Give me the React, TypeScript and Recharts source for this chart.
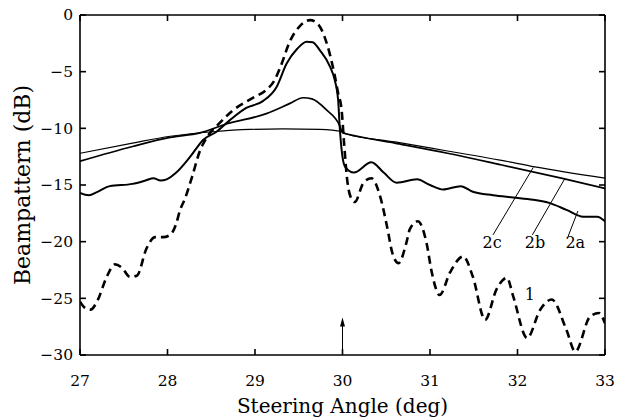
import { LineChart, Line, XAxis, YAxis, ReferenceLine, ReferenceDot } from "recharts";

// curve 1 (dashed)
const c1X = [27.0, 27.05, 27.12, 27.2, 27.3, 27.4, 27.48, 27.57, 27.65, 27.76, 27.86, 27.95, 28.03, 28.1, 28.14, 28.2, 28.28, 28.37, 28.45, 28.6, 28.75, 28.98, 29.13, 29.22, 29.29, 29.4, 29.51, 29.63, 29.72, 29.82, 29.91, 29.95, 29.99, 30.02, 30.05, 30.09, 30.14, 30.24, 30.33, 30.43, 30.51, 30.57, 30.64, 30.73, 30.77, 30.86, 30.96, 31.02, 31.11, 31.23, 31.38, 31.49, 31.63, 31.76, 31.88, 31.95, 32.11, 32.26, 32.39, 32.56, 32.66, 32.83, 32.93, 33.0];
const c1Y = [-25.3, -25.8, -26.0, -25.2, -23.2, -22.0, -22.3, -23.1, -23.0, -20.6, -19.6, -19.6, -19.4, -18.4, -17.3, -16.2, -14.3, -12.0, -10.8, -9.5, -8.4, -7.3, -6.6, -5.8, -4.6, -2.3, -1.0, -0.45, -0.8, -2.5, -5.3, -6.9, -8.4, -11.5, -14.3, -16.0, -16.5, -14.8, -14.4, -16.0, -18.7, -21.0, -21.9, -20.1, -18.9, -18.2, -20.1, -22.7, -24.7, -22.7, -21.3, -23.1, -26.9, -24.2, -23.2, -24.8, -28.5, -26.0, -25.1, -27.8, -29.7, -26.6, -26.3, -27.2];

// curve 2a
const c2aX = [27.0, 27.1, 27.2, 27.34, 27.6, 27.75, 27.84, 27.92, 27.99, 28.1, 28.26, 28.41, 28.56, 28.71, 28.9, 29.09, 29.25, 29.36, 29.48, 29.59, 29.66, 29.74, 29.86, 29.91, 29.95, 29.97, 29.99, 30.03, 30.13, 30.33, 30.47, 30.62, 30.85, 31.0, 31.15, 31.35, 31.49, 31.72, 31.95, 32.18, 32.37, 32.56, 32.75, 32.91, 33.0];
const c2aY = [-15.7, -15.9, -15.6, -15.1, -14.9, -14.6, -14.4, -14.6, -14.5, -13.9, -12.5, -11.0, -10.3, -9.3, -8.2, -7.6, -6.3, -4.3, -3.0, -2.35, -2.4, -3.1, -4.6, -5.7, -7.5, -10.1, -11.9, -13.4, -13.9, -13.0, -13.9, -14.8, -14.5, -15.0, -15.4, -15.1, -15.6, -15.9, -16.1, -16.3, -16.6, -17.2, -17.8, -17.8, -18.2];

// curve 2b
const c2bX = [27.0, 27.6, 28.03, 28.37, 28.68, 29.13, 29.4, 29.55, 29.65, 29.82, 29.97, 30.0, 30.05, 30.6, 31.2, 31.8, 32.5, 33.0];
const c2bY = [-12.9, -11.6, -10.8, -10.4, -9.6, -8.7, -7.8, -7.3, -7.4, -8.4, -9.8, -10.4, -10.5, -11.3, -12.2, -13.2, -14.4, -15.3];

// curve 2c
const c2cX = [27.0, 27.6, 28.03, 28.52, 28.94, 29.32, 29.74, 30.0, 30.05, 30.6, 31.2, 31.8, 32.2, 33.0];
const c2cY = [-12.2, -11.3, -10.7, -10.3, -10.1, -10.05, -10.1, -10.3, -10.5, -11.2, -12.0, -12.8, -13.4, -14.4];

const xTicks = [27, 28, 29, 30, 31, 32, 33];
const yTicks = [0, -5, -10, -15, -20, -25, -30];

const curveLabels = ["2c", "2b", "2a"];
const labelX = [31.71, 32.2, 32.66];
const labelY = -20.1;
const leaderFrom = [
  { x: 31.72, y: -19.4 },
  { x: 32.17, y: -19.4 },
  { x: 32.58, y: -19.5 },
];
const leaderTo = [
  { x: 32.18, y: -13.45 },
  { x: 32.54, y: -14.45 },
  { x: 32.69, y: -17.3 },
];

const pts = (xs: number[], ys: number[]) => xs.map((x, i) => ({ x, y: ys[i] }));

const FONT = "'DejaVu Serif', 'Liberation Serif', serif";
const fmt = (v: number) => String(v).replace("-", "\u2212");
const M = 20; // tick margin
const TL = 6; // inward tick length

const BottomTick = ({ x, y, payload }: any) => (
  <g>
    <line x1={x} x2={x} y1={y - M} y2={y - M - TL} stroke="#000" strokeWidth={1.6} />
    <text x={x} y={y} dy="0.71em" textAnchor="middle" fontSize={15.5} fontFamily={FONT} fill="#000">
      {payload.value}
    </text>
  </g>
);

const TopTick = ({ x, y }: any) => (
  <line x1={x} x2={x} y1={y + M} y2={y + M + TL} stroke="#000" strokeWidth={1.6} />
);

const LeftTick = ({ x, y, payload }: any) => (
  <g>
    <line x1={x + M} x2={x + M + TL} y1={y} y2={y} stroke="#000" strokeWidth={1.6} />
    <text x={x + M - 7} y={y} dy="0.35em" textAnchor="end" fontSize={15.5} fontFamily={FONT} fill="#000">
      {fmt(payload.value)}
    </text>
  </g>
);

const RightTick = ({ x, y }: any) => (
  <line x1={x - M} x2={x - M - TL} y1={y} y2={y} stroke="#000" strokeWidth={1.6} />
);

const textShape = (t: string) => (p: any) => (
  <text x={p.cx} y={p.cy} textAnchor="middle" dominantBaseline="central" fontSize={16} fontFamily={FONT} fill="#000">
    {t}
  </text>
);

export default function App() {
  return (
    <div style={{ position: "absolute", left: 0, top: 0, background: "#fff" }}>
      <LineChart width={626} height={419} margin={{ top: 14, right: 20, bottom: 0, left: 0 }}>
        <XAxis
          xAxisId={0}
          dataKey="x"
          type="number"
          domain={[27, 33]}
          ticks={xTicks}
          allowDataOverflow
          height={64}
          tickSize={0}
          tickMargin={M}
          tickLine={false}
          tick={BottomTick}
          stroke="#000"
          strokeWidth={1.6}
          label={{ value: "Steering Angle (deg)", position: "insideBottom", offset: 6, style: { fontSize: 20, fontFamily: FONT, fill: "#000" } }}
        />
        <XAxis
          xAxisId="t"
          orientation="top"
          dataKey="x"
          type="number"
          domain={[27, 33]}
          ticks={xTicks}
          allowDataOverflow
          height={1}
          tickSize={0}
          tickMargin={M}
          tickLine={false}
          tick={TopTick}
          stroke="#000"
          strokeWidth={1.6}
        />
        <YAxis
          yAxisId={0}
          type="number"
          domain={[-30, 0]}
          ticks={yTicks}
          allowDataOverflow
          width={80}
          tickSize={0}
          tickMargin={M}
          tickLine={false}
          tick={LeftTick}
          stroke="#000"
          strokeWidth={1.6}
          label={{ value: "Beampattern (dB)", angle: -90, position: "insideLeft", offset: 22, style: { fontSize: 22, fontFamily: FONT, fill: "#000", textAnchor: "middle" } }}
        />
        <YAxis
          yAxisId="r"
          orientation="right"
          type="number"
          domain={[-30, 0]}
          ticks={yTicks}
          allowDataOverflow
          width={1}
          tickSize={0}
          tickMargin={M}
          tickLine={false}
          tick={RightTick}
          stroke="#000"
          strokeWidth={1.6}
        />
        <Line xAxisId="t" yAxisId="r" data={pts(c2cX, c2cY)} dataKey="y" type="monotone" stroke="#000" strokeWidth={1.2} dot={false} isAnimationActive={false} />
        <Line data={pts(c2bX, c2bY)} dataKey="y" type="monotone" stroke="#000" strokeWidth={1.7} dot={false} isAnimationActive={false} />
        <Line data={pts(c2aX, c2aY)} dataKey="y" type="monotone" stroke="#000" strokeWidth={2} dot={false} isAnimationActive={false} />
        <Line data={pts(c1X, c1Y)} dataKey="y" type="monotone" stroke="#000" strokeWidth={2.6} strokeDasharray="8 5" dot={false} isAnimationActive={false} />
        {leaderFrom.map((p, i) => (
          <ReferenceLine key={"l" + i} segment={[p, leaderTo[i]]} stroke="#000" strokeWidth={1} />
        ))}
        {curveLabels.map((t, i) => (
          <ReferenceDot key={t} x={labelX[i]} y={labelY} r={1} shape={textShape(t)} />
        ))}
        <ReferenceDot x={32.14} y={-24.7} r={1} shape={textShape("1")} />
        <ReferenceLine segment={[{ x: 30, y: -30 }, { x: 30, y: -27.2 }]} stroke="#000" strokeWidth={1} />
        <ReferenceDot
          x={30}
          y={-26.7}
          r={1}
          shape={(p: any) => (
            <path d={`M${p.cx},${p.cy} L${p.cx - 2.5},${p.cy + 9} L${p.cx + 2.5},${p.cy + 9} Z`} fill="#000" />
          )}
        />
      </LineChart>
    </div>
  );
}
